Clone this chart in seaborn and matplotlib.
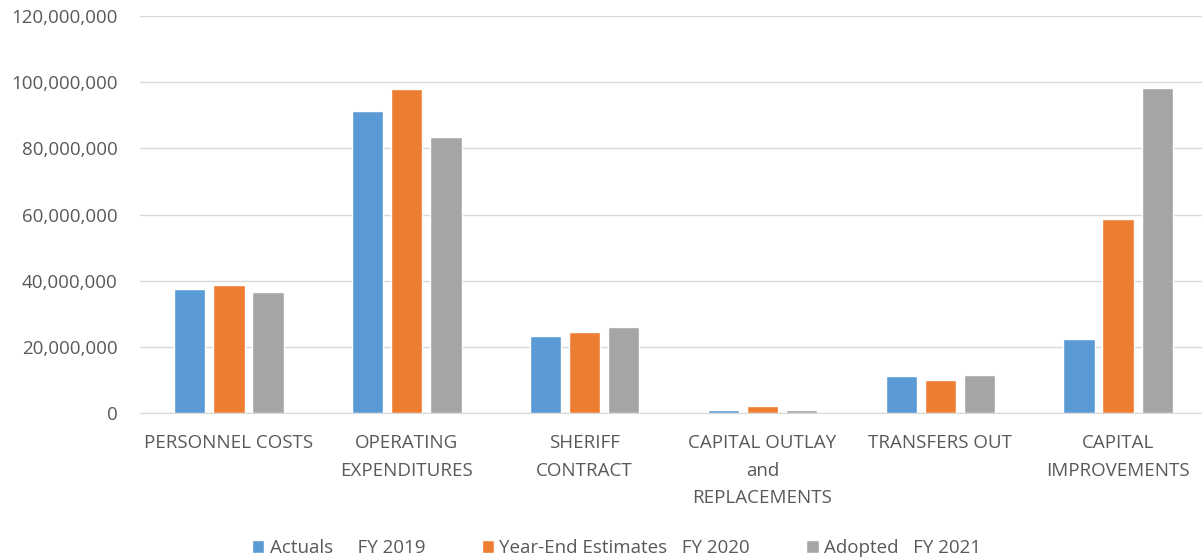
import matplotlib
matplotlib.use("Agg")
import matplotlib.pyplot as plt
import matplotlib.ticker as mticker
import pandas as pd
import seaborn as sns

categories = ["PERSONNEL COSTS", "OPERATING\nEXPENDITURES", "SHERIFF\nCONTRACT",
              "CAPITAL OUTLAY\nand\nREPLACEMENTS", "TRANSFERS OUT", "CAPITAL\nIMPROVEMENTS"]
series = ["Actuals     FY 2019", "Year-End Estimates   FY 2020", "Adopted   FY 2021"]
actuals_2019 = [37.5e6, 91.2e6, 23.3e6, 0.9e6, 11.2e6, 22.4e6]
estimates_2020 = [38.7e6, 97.9e6, 24.5e6, 2.0e6, 10.0e6, 58.6e6]
adopted_2021 = [36.6e6, 83.4e6, 26.0e6, 0.9e6, 11.5e6, 98.2e6]
colors = ["#5B9BD5", "#ED7D31", "#A5A5A5"]

rows = []
for name, vals in zip(series, [actuals_2019, estimates_2020, adopted_2021]):
    for cat, v in zip(categories, vals):
        rows.append({"category": cat, "series": name, "value": v})
df = pd.DataFrame(rows)

sns.set_style("white")
plt.rcParams["font.family"] = ["Open Sans", "DejaVu Sans"]

fig = plt.figure(figsize=(12.02, 5.6), dpi=100)
ax = fig.add_axes([0.1165, 0.2625, 0.8877, 0.7089])

sns.barplot(data=df, x="category", y="value", hue="series", palette=colors,
            width=0.66, gap=0.2, ax=ax, legend=True, saturation=1)

ax.set_ylim(0, 120e6)
ax.set_xlim(-0.5, 5.5)
ax.yaxis.set_major_locator(mticker.MultipleLocator(20e6))
ax.yaxis.set_major_formatter(mticker.FuncFormatter(lambda v, p: f"{v:,.0f}"))
ax.grid(axis="y", color="#D9D9D9", linewidth=1)
ax.set_axisbelow(True)
for s in ["top", "right", "left"]:
    ax.spines[s].set_visible(False)
ax.spines["bottom"].set_color("#D9D9D9")
ax.tick_params(axis="both", length=0, labelsize=13.5, colors="#595959")
ax.tick_params(axis="x", pad=15)
ax.tick_params(axis="y", pad=16)
for lbl in ax.get_xticklabels():
    lbl.set_linespacing(1.7)
ax.set_xlabel("")
ax.set_ylabel("")

handles, labels = ax.get_legend_handles_labels()
ax.get_legend().remove()
fig.legend(handles, labels, loc="lower center", bbox_to_anchor=(0.513, -0.025), ncol=3,
           frameon=False, fontsize=13.5, labelcolor="#595959", handlelength=0.65,
           handleheight=0.65, handletextpad=0.3, columnspacing=3.0)

fig.savefig("out.png", dpi=100)
